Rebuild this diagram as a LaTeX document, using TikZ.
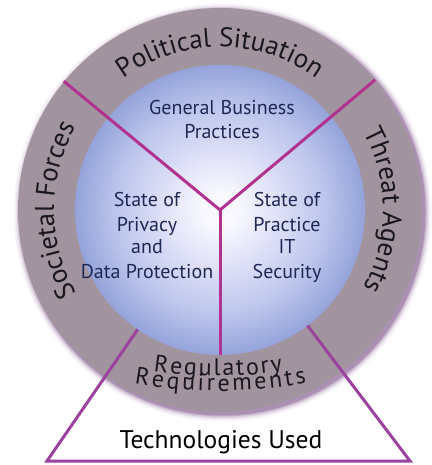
\documentclass[tikz,border=0pt]{standalone}
\usepackage{fontspec}
\setmainfont{PT Sans}
\usetikzlibrary{calc,decorations.text}

\definecolor{ringgray}{RGB}{162,148,158}
\definecolor{ringshadow}{RGB}{105,55,118}
\definecolor{discedge}{RGB}{148,163,218}
\definecolor{discmid}{RGB}{188,197,236}
\definecolor{disclight}{RGB}{222,224,248}
\definecolor{disccore}{RGB}{248,248,254}
\definecolor{spoke}{RGB}{178,50,145}
\definecolor{coneline}{RGB}{155,66,160}
\definecolor{innertext}{RGB}{30,40,85}
\definecolor{ringtext}{RGB}{25,22,30}

% soft glow of the inner disc
\pgfdeclareradialshading{discglow}{\pgfpoint{0bp}{0bp}}{%
  color(0bp)=(disccore); color(3bp)=(disccore); color(10bp)=(disclight);
  color(18bp)=(discmid); color(25bp)=(discedge); color(50bp)=(discedge)}

\newcommand{\ringfont}{\fontsize{27}{27}\selectfont\color{ringtext}}
% lower ring text: slightly tracked letters
\newcommand{\lowringfont}[1]{\fontsize{24}{24}\selectfont\color{ringtext}\kern#1}

\begin{document}
\begin{tikzpicture}[x=1pt,y=1pt,
  spoke line/.style={spoke,line width=3pt},
  cone line/.style={coneline,line width=3pt,line join=miter},
  innerlabel/.style={anchor=base,inner sep=0pt,text=innertext,font=\fontsize{20}{20}\selectfont},
  baselabel/.style={anchor=base,inner sep=0pt,text=black,font=\fontsize{25.5}{25.5}\selectfont},
  ringlabel/.style={decorate,decoration={text along path,text align=center,text={#1}}}]
\useasboundingbox (-220,-255) rectangle (211,210);
\coordinate (c) at (0,0);

% drop shadow of the outer ring
\foreach \k/\o in {7/0.05,5/0.09,3.5/0.14,2/0.2,1/0.25}
  \fill[ringshadow,opacity=\o] (2.5,-2.5) circle (202+\k);

% outer ring and inner disc
\fill[ringgray] (c) circle (202);
\shade[shading=discglow] (c) circle (145);

% spokes of the Y
\coordinate (tl) at (140.5:202.5);
\coordinate (tr) at (40:202.5);
\coordinate (bt) at (270:145);
\draw[spoke line] (tl) -- (c) -- (tr);
\draw[spoke line] (c) -- (bt);

% cone below the circle
\coordinate (bl) at (-173,-251);
\coordinate (br) at (190,-251);
\coordinate (el) at ($(c)!145pt!(bl)$);
\coordinate (er) at ($(c)!145pt!(br)$);
\draw[cone line] (el) -- (bl) -- (br) -- (er);

% texts on the ring
\path[ringlabel={|\ringfont|Political Situation}]
  (150:163) arc[start angle=150,end angle=30,radius=163];
\path[ringlabel={|\ringfont|Threat Agents}]
  (60:163) arc[start angle=60,end angle=-60,radius=163];
\path[ringlabel={|\ringfont|Societal Forces}]
  (240:166) arc[start angle=240,end angle=120,radius=166];
\path[ringlabel={|\lowringfont{2pt}|Regulatory}]
  ([shift={(-3,284)}]250:450) arc[start angle=250,end angle=290,radius=450];
\path[ringlabel={|\lowringfont{2.8pt}|Requirements}]
  ([shift={(-1,319)}]250:500) arc[start angle=250,end angle=290,radius=500];

% texts in the disc
\node[innerlabel] (gb1) at (2,95) {General Business};
\node[innerlabel] (gb2) at (2,71) {Practices};
\node[innerlabel] (pv1) at (-73,3) {State of};
\node[innerlabel] (pv2) at (-73,-22) {Privacy};
\node[innerlabel] (pv3) at (-73,-44) {and};
\node[innerlabel] (pv4) at (-73,-69) {Data Protection};
\node[innerlabel] (it1) at (67,3) {State of};
\node[innerlabel] (it2) at (67,-22) {Practice};
\node[innerlabel] (it3) at (67,-44) {IT};
\node[innerlabel] (it4) at (67,-69) {Security};

% text in the cone
\node[baselabel] (tech) at (1,-238) {Technologies Used};
\end{tikzpicture}
\end{document}
